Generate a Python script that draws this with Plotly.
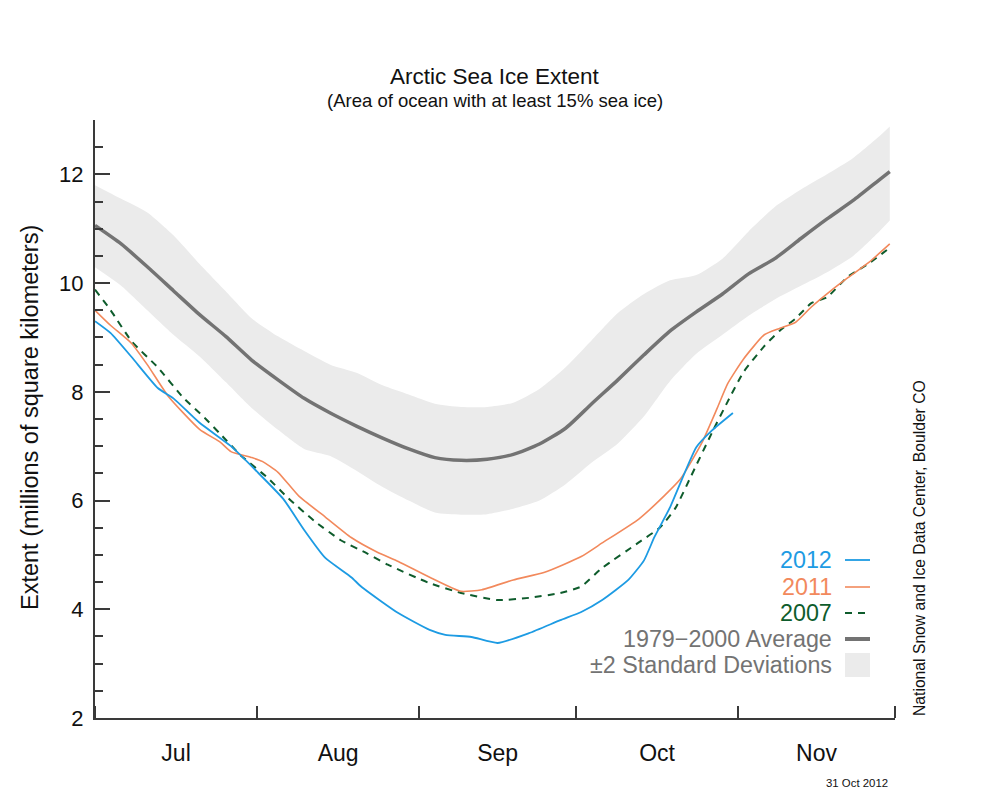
import plotly.graph_objects as go

# ---------------- data (millions of km^2) ----------------
band_dates = ["2012-07-01", "2012-07-06", "2012-07-11", "2012-07-16", "2012-07-21", "2012-07-26",
              "2012-07-31", "2012-08-05", "2012-08-10", "2012-08-15", "2012-08-20", "2012-08-25",
              "2012-08-30", "2012-09-04", "2012-09-09", "2012-09-14", "2012-09-19", "2012-09-24",
              "2012-09-29", "2012-10-04", "2012-10-09", "2012-10-14", "2012-10-19", "2012-10-24",
              "2012-10-29", "2012-11-03", "2012-11-08", "2012-11-13", "2012-11-18", "2012-11-23",
              "2012-11-28", "2012-11-30"]
avg_1979_2000 = [11.06, 10.72, 10.30, 9.86, 9.42, 9.02, 8.58, 8.22, 7.88, 7.61, 7.37, 7.15,
                 6.95, 6.79, 6.74, 6.76, 6.85, 7.04, 7.33, 7.78, 8.22, 8.68, 9.12, 9.47,
                 9.80, 10.17, 10.45, 10.82, 11.18, 11.52, 11.90, 12.05]
sd_upper = [11.80, 11.55, 11.30, 10.88, 10.35, 9.85, 9.35, 9.02, 8.75, 8.50, 8.35, 8.12,
            7.95, 7.78, 7.72, 7.72, 7.80, 8.05, 8.45, 8.95, 9.45, 9.80, 10.05, 10.15,
            10.45, 10.95, 11.40, 11.72, 12.00, 12.30, 12.70, 12.88]
sd_lower = [10.29, 9.95, 9.50, 9.05, 8.65, 8.18, 7.70, 7.30, 6.95, 6.82, 6.55, 6.25,
            6.00, 5.78, 5.74, 5.75, 5.85, 6.00, 6.30, 6.70, 7.05, 7.55, 8.20, 8.70,
            9.05, 9.40, 9.70, 9.95, 10.20, 10.50, 10.95, 11.15]

dates_2012 = ["2012-07-01", "2012-07-04", "2012-07-08", "2012-07-13", "2012-07-16", "2012-07-21",
              "2012-07-27", "2012-08-01", "2012-08-06", "2012-08-10", "2012-08-14", "2012-08-19",
              "2012-08-21", "2012-08-28", "2012-09-03", "2012-09-06", "2012-09-11", "2012-09-16",
              "2012-09-22", "2012-09-28", "2012-10-02", "2012-10-06", "2012-10-11", "2012-10-14",
              "2012-10-16", "2012-10-19", "2012-10-24", "2012-10-27", "2012-10-31"]
extent_2012 = [9.30, 9.08, 8.64, 8.07, 7.88, 7.43, 7.00, 6.53, 6.03, 5.46, 4.95, 4.59,
               4.41, 3.93, 3.62, 3.53, 3.49, 3.38, 3.56, 3.80, 3.95, 4.17, 4.54, 4.90,
               5.33, 5.88, 6.98, 7.29, 7.61]

dates_2011 = ["2012-07-01", "2012-07-04", "2012-07-08", "2012-07-11", "2012-07-15", "2012-07-21",
              "2012-07-25", "2012-07-27", "2012-07-31", "2012-08-02", "2012-08-05", "2012-08-09",
              "2012-08-14", "2012-08-19", "2012-08-24", "2012-08-28", "2012-09-03", "2012-09-09",
              "2012-09-13", "2012-09-19", "2012-09-25", "2012-10-02", "2012-10-06", "2012-10-13",
              "2012-10-18", "2012-10-21", "2012-10-25", "2012-10-28", "2012-10-30", "2012-11-02",
              "2012-11-06", "2012-11-09", "2012-11-12", "2012-11-15", "2012-11-19", "2012-11-22",
              "2012-11-26", "2012-11-30"]
extent_2011 = [9.50, 9.22, 8.89, 8.50, 7.92, 7.31, 7.07, 6.90, 6.79, 6.72, 6.52, 6.08,
               5.70, 5.32, 5.05, 4.88, 4.59, 4.33, 4.36, 4.54, 4.68, 4.97, 5.22, 5.66,
               6.10, 6.40, 7.05, 7.70, 8.15, 8.60, 9.05, 9.17, 9.28, 9.56, 9.88, 10.10,
               10.38, 10.72]

dates_2007 = ["2012-07-01", "2012-07-04", "2012-07-08", "2012-07-13", "2012-07-18", "2012-07-22",
              "2012-07-25", "2012-07-29", "2012-08-03", "2012-08-07", "2012-08-12", "2012-08-17",
              "2012-08-22", "2012-08-26", "2012-09-03", "2012-09-09", "2012-09-16", "2012-09-22",
              "2012-09-28", "2012-10-02", "2012-10-06", "2012-10-13", "2012-10-17", "2012-10-20",
              "2012-10-23", "2012-10-27", "2012-10-30", "2012-11-02", "2012-11-06", "2012-11-09",
              "2012-11-12", "2012-11-15", "2012-11-18", "2012-11-22", "2012-11-26", "2012-11-30"]
extent_2007 = [9.88, 9.50, 8.93, 8.45, 7.88, 7.52, 7.22, 6.82, 6.42, 6.04, 5.62, 5.27,
               5.03, 4.82, 4.48, 4.30, 4.17, 4.21, 4.30, 4.42, 4.76, 5.23, 5.50, 5.86,
               6.45, 7.25, 7.82, 8.36, 8.84, 9.13, 9.35, 9.63, 9.74, 10.12, 10.36, 10.65]

y_tick_values = [2, 4, 6, 8, 10, 12]

# ---------------- styles ----------------
BLUE = "#1d9be3"
ORANGE = "#f2895c"
GREEN = "#0e5c2c"
AVG = "#737373"
BAND = "#ebebeb"
AXIS = "#3a3a3a"
FONT = "Liberation Sans, Arial, Helvetica, sans-serif"

fig = go.Figure()

fig.add_trace(go.Scatter(x=band_dates, y=sd_upper, mode="lines", line=dict(width=0, shape="spline", smoothing=0.6),
                         hoverinfo="skip", showlegend=False))
fig.add_trace(go.Scatter(x=band_dates, y=sd_lower, mode="lines", line=dict(width=0, shape="spline", smoothing=0.6),
                         fill="tonexty", fillcolor=BAND, hoverinfo="skip", showlegend=False))
fig.add_trace(go.Scatter(x=band_dates, y=avg_1979_2000, mode="lines",
                         line=dict(color=AVG, width=3.5, shape="spline", smoothing=0.6), showlegend=False))
fig.add_trace(go.Scatter(x=dates_2007, y=extent_2007, mode="lines",
                         line=dict(color=GREEN, width=2, dash="7px,6px", shape="spline", smoothing=0.5), showlegend=False))
fig.add_trace(go.Scatter(x=dates_2011, y=extent_2011, mode="lines",
                         line=dict(color=ORANGE, width=1.6, shape="spline", smoothing=0.5), showlegend=False))
fig.add_trace(go.Scatter(x=dates_2012, y=extent_2012, mode="lines",
                         line=dict(color=BLUE, width=1.8, shape="spline", smoothing=0.5), showlegend=False))

# target plot area in window pixels: x 95..895, y 120..718
# the page body adds an 8px offset, so margins are reduced by that amount
OFF = 8
PL, PR, PT, PB = 95, 895, 120, 718
W, H = PR - PL, PB - PT
L = PL - OFF
T = PT - OFF
R = 1000 - L - W
B = 800 - T - H


def px(xp):
    return (xp - PL) / W


def py(yp):
    return (PB - yp) / H


annotations = [
    dict(text="Arctic Sea Ice Extent", x=px(495), y=py(76.5), font=dict(size=22.5, color="#111")),
    dict(text="(Area of ocean with at least 15% sea ice)", x=px(495), y=py(100.5), font=dict(size=18.5, color="#111")),
    dict(text="Extent (millions of square kilometers)", x=px(30), y=py(418), textangle=-90,
         font=dict(size=23.5, color="#111")),
    dict(text="National Snow and Ice Data Center, Boulder CO", x=px(919), y=py(718), textangle=-90,
         yanchor="bottom", font=dict(size=15.7, color="#111")),
    dict(text="31 Oct 2012", x=px(890), y=py(783), xanchor="right", font=dict(size=11.4, color="#111")),
]
for a in annotations:
    a.update(xref="paper", yref="paper", showarrow=False)
    a.setdefault("xanchor", "center")
    a.setdefault("yanchor", "middle")
    a["font"]["family"] = FONT

legend_rows = [
    ("2012", BLUE, 560),
    ("2011", ORANGE, 587),
    ("2007", GREEN, 613),
    ("1979\u22122000 Average", AVG, 639),
    ("\u00b12 Standard Deviations", AVG, 665),
]
for label, col, yy in legend_rows:
    annotations.append(dict(text=label, x=px(834), y=py(yy), xref="paper", yref="paper", showarrow=False,
                            xanchor="right", yanchor="middle", font=dict(size=23.3, color=col, family=FONT)))

shapes = [
    dict(type="line", x0=px(845), x1=px(870), y0=py(560), y1=py(560), line=dict(color=BLUE, width=1.8)),
    dict(type="line", x0=px(845), x1=px(870), y0=py(587), y1=py(587), line=dict(color=ORANGE, width=1.6)),
    dict(type="line", x0=px(845), x1=px(870), y0=py(613), y1=py(613), line=dict(color=GREEN, width=2, dash="7px,6px")),
    dict(type="line", x0=px(845), x1=px(870), y0=py(639), y1=py(639), line=dict(color=AVG, width=4)),
    dict(type="rect", x0=px(845), x1=px(870), y0=py(677), y1=py(653), line=dict(width=0), fillcolor=BAND),
]
for s in shapes:
    s.update(xref="paper", yref="paper")

fig.update_layout(
    width=1000, height=800,
    margin=dict(l=L, r=R, t=T, b=B),
    paper_bgcolor="white", plot_bgcolor="white",
    font=dict(family=FONT, color="#111"),
    showlegend=False,
    annotations=annotations,
    shapes=shapes,
    xaxis=dict(
        type="date", range=["2012-07-01", "2012-12-01"],
        tick0="2012-07-01", dtick="M1", tickformat="%b", ticklabelmode="period",
        ticks="inside", ticklen=12, tickwidth=1.5, tickcolor=AXIS,
        showline=True, linecolor=AXIS, linewidth=2,
        showgrid=False, zeroline=False,
        tickfont=dict(size=23, color="#111"), ticklabelstandoff=13,
    ),
    yaxis=dict(
        range=[2, 13], tickmode="array", tickvals=y_tick_values,
        ticks="inside", ticklen=15, tickwidth=1.5, tickcolor=AXIS,
        minor=dict(dtick=0.5, tick0=2, ticks="inside", ticklen=8, tickwidth=1.5, tickcolor=AXIS),
        showline=True, linecolor=AXIS, linewidth=2,
        showgrid=False, zeroline=False,
        tickfont=dict(size=22, color="#111"), ticklabelstandoff=5,
    ),
)

fig.write_html("out.html")
